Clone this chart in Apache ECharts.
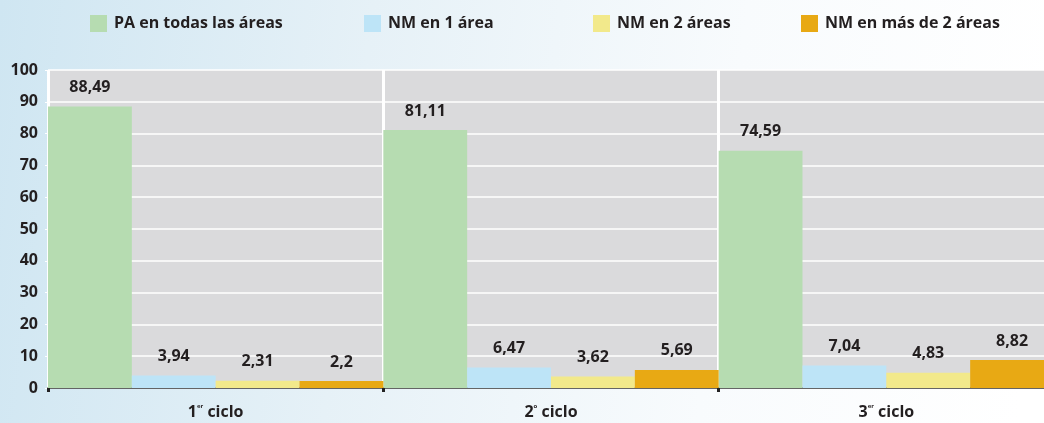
<!DOCTYPE html>
<html><head><meta charset="utf-8">
<script src="https://cdn.jsdelivr.net/npm/echarts@6/dist/echarts.min.js"></script>
<style>html,body{margin:0;padding:0;background:#fff;overflow:hidden;width:1044px;height:423px}#c{width:1054px;height:423px}</style>
</head><body><div id="c"></div>
<script>
const categories = ['1er ciclo', '2o ciclo', '3er ciclo'];
const seriesNames = ['PA en todas las áreas', 'NM en 1 área', 'NM en 2 áreas', 'NM en más de 2 áreas'];
const paTodas = [88.49, 81.11, 74.59];
const nm1 = [3.94, 6.47, 7.04];
const nm2 = [2.31, 3.62, 4.83];
const nmMas2 = [2.2, 5.69, 8.82];
const yTicks = [0, 10, 20, 30, 40, 50, 60, 70, 80, 90, 100];
const colors = ['#b6dcb1', '#bde4f7', '#f2e98b', '#e8a914'];
const FONT = 'Open Sans';
const TXT = '#231f20';
const FS = 16;

const chart = echarts.init(document.getElementById('c'));
const allData = [paTodas, nm1, nm2, nmMas2];
const legendLefts = [90, 364, 593, 801];

chart.setOption({
  backgroundColor: new echarts.graphic.LinearGradient(0, 0, 1, 0.3, [
    {offset: 0, color: '#cfe6f2'},
    {offset: 0.35, color: '#e6f1f7'},
    {offset: 0.7, color: '#f8fbfd'},
    {offset: 1, color: '#ffffff'}
  ]),
  animation: false,
  textStyle: {fontFamily: FONT},
  legend: seriesNames.map((n, i) => ({
    data: [n], left: legendLefts[i], top: 15, padding: 0,
    itemWidth: 17, itemHeight: 17, itemGap: 0,
    icon: 'rect',
    textStyle: {fontFamily: FONT, fontWeight: 'bold', fontSize: FS, color: TXT, padding: [0, 0, 0, 2]}
  })),
  grid: {left: 48, top: 70, right: 0, bottom: 35, show: true, backgroundColor: '#dadadc', borderWidth: 0},
  xAxis: {
    type: 'category', data: categories,
    axisLine: {lineStyle: {color: '#333', width: 1.5}},
    axisTick: {show: true, length: 4, lineStyle: {color: '#222', width: 3}},
    splitLine: {show: true, lineStyle: {color: '#ffffff', width: 3}},
    axisLabel: {
      margin: 15,
      formatter: function (v) {
        const m = v.match(/^(\d)(\S+) (.*)$/);
        return '{b|' + m[1] + '}{s|' + m[2] + '}{b| ' + m[3] + '}';
      },
      rich: {
        b: {fontFamily: FONT, fontWeight: 'bold', fontSize: FS, color: TXT, lineHeight: 18},
        s: {fontFamily: FONT, fontWeight: 'bold', fontSize: 6, color: TXT, verticalAlign: 'top', lineHeight: 18, padding: [0, 0, 9, 0]}
      }
    }
  },
  yAxis: {
    type: 'value', min: 0, max: 100, interval: 10,
    axisLine: {show: false},
    axisTick: {show: true, length: 3, lineStyle: {color: '#ffffff', width: 1}},
    splitLine: {lineStyle: {color: '#ffffff', width: 1.5}},
    axisLabel: {
      margin: 10, fontFamily: FONT, fontWeight: 'bold', fontSize: FS, color: TXT,
      formatter: v => yTicks.includes(v) ? String(v) : ''
    }
  },
  series: seriesNames.map((n, i) => ({
    name: n, type: 'bar', data: allData[i],
    barGap: '0%', barCategoryGap: '0%',
    itemStyle: {color: colors[i]},
    label: {
      show: true, position: 'top', distance: 11,
      fontFamily: FONT, fontWeight: 'bold', fontSize: FS, color: TXT,
      formatter: p => String(p.value).replace('.', ',')
    }
  }))
});
</script></body></html>
